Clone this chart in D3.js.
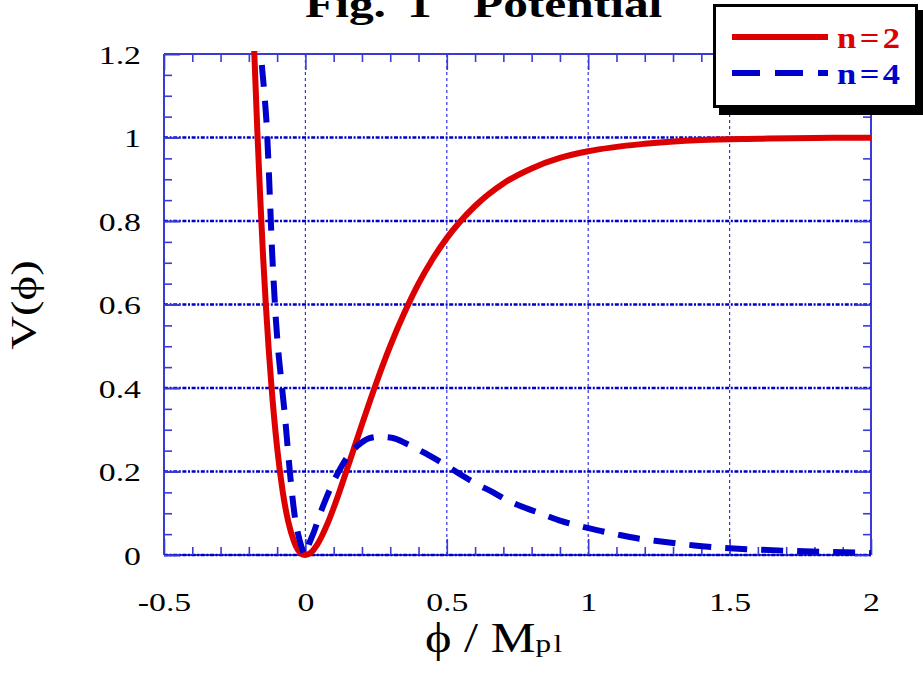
<!DOCTYPE html>
<html><head><meta charset="utf-8">
<script src="https://cdn.jsdelivr.net/npm/d3@7"></script>
<style>body{margin:0;background:#fff}svg{display:block}</style>
</head><body>
<svg id="chart" width="923" height="675"></svg>
<script>
// ---- data ----
const titleParts = ["Fig.", "1", "Potential"];
const xTickValues = [-0.5, 0, 0.5, 1, 1.5, 2];
const xTickLabels = ["-0.5", "0", "0.5", "1", "1.5", "2"];
const yTickValues = [0, 0.2, 0.4, 0.6, 0.8, 1, 1.2];
const yTickLabels = ["0", "0.2", "0.4", "0.6", "0.8", "1", "1.2"];
const seriesNames = ["n=2", "n=4"];
const phiN2 = [-0.19,-0.18,-0.17,-0.16,-0.15,-0.14,-0.13,-0.12,-0.10,-0.08,-0.06,-0.04,-0.02,0,0.02,0.04,0.06,0.08,0.10,0.12,0.15,0.20,0.25,0.30,0.35,0.40,0.45,0.50,0.60,0.70,0.80,0.90,1.0,1.2,1.4,1.6,1.8,2.0];
const vN2   = [1.39,1.19,1.015,0.86,0.72,0.60,0.495,0.404,0.257,0.151,0.078,0.032,0.007,0,0.006,0.023,0.048,0.078,0.113,0.151,0.211,0.313,0.411,0.501,0.58,0.65,0.709,0.759,0.836,0.89,0.926,0.951,0.967,0.985,0.994,0.997,0.999,0.9995];
const phiN4 = [-0.160,-0.157,-0.147,-0.137,-0.130,-0.124,-0.118,-0.111,-0.104,-0.096,-0.084,-0.072,-0.063,-0.055,-0.046,-0.037,-0.025,-0.013,0,0.012,0.03,0.05,0.07,0.09,0.11,0.13,0.15,0.175,0.20,0.222,0.264,0.305,0.360,0.431,0.480,0.541,0.600,0.664,0.714,0.785,0.830,0.906,0.965,1.048,1.097,1.181,1.236,1.322,1.375,1.463,1.56,1.71,1.86,2.0];
const vN4   = [1.26,1.21,1.12,1.03,0.93,0.83,0.73,0.64,0.56,0.49,0.41,0.33,0.26,0.20,0.14,0.09,0.048,0.018,0,0.025,0.055,0.095,0.13,0.162,0.19,0.215,0.236,0.256,0.27,0.279,0.283,0.281,0.266,0.241,0.222,0.196,0.172,0.150,0.131,0.111,0.100,0.081,0.070,0.057,0.050,0.039,0.034,0.027,0.023,0.018,0.014,0.010,0.007,0.005];

// ---- setup ----
const svg = d3.select("#chart");
const L = 164, R = 871, T = 54, B = 555;
const x = d3.scaleLinear().domain([-0.5, 2]).range([L, R]);
const y = d3.scaleLinear().domain([0, 1.2]).range([B, T]);
const SX = 1.3;
const serif = "'Liberation Serif','Times New Roman',Times,serif";
const RED = "#dd0000", BLUE = "#0000cc", FRAME = "#3a3ad6";

svg.append("rect").attr("width", 923).attr("height", 675).attr("fill", "#fff");

// title
const titleX = [305, 407, 473];
titleParts.forEach((t, i) => {
  svg.append("text").attr("transform", `translate(${titleX[i]},17) scale(${SX},1)`)
    .attr("font-family", serif).attr("font-weight", "bold").attr("font-size", 38)
    .attr("fill", "#000").text(t);
});

// vertical grid
svg.append("g").selectAll("line").data([0, 0.5, 1, 1.5]).join("line")
  .attr("x1", d => x(d)).attr("x2", d => x(d)).attr("y1", T).attr("y2", B)
  .attr("stroke", "#3333dd").attr("stroke-width", 1.2).attr("stroke-dasharray", "3,3");

// frame
const frame = svg.append("g").attr("stroke", FRAME).attr("stroke-width", 2).attr("fill", "none");
frame.append("line").attr("x1", L).attr("x2", L).attr("y1", T).attr("y2", B);
frame.append("line").attr("x1", R).attr("x2", R).attr("y1", T).attr("y2", B);
frame.append("line").attr("x1", L).attr("x2", R).attr("y1", T).attr("y2", T);
frame.append("line").attr("x1", L).attr("x2", R).attr("y1", B).attr("y2", B);

// horizontal grid (dash-dot)
svg.append("g").selectAll("line").data([0, 0.2, 0.4, 0.6, 0.8, 1.0]).join("line")
  .attr("x1", L).attr("x2", R).attr("y1", d => y(d)).attr("y2", d => y(d))
  .attr("stroke", BLUE).attr("stroke-width", 2.4).attr("stroke-dasharray", "4,1.6,2,1.6");

// ticks through d3 axes
const xMinor = d3.range(-0.5, 2.0001, 0.1).filter(v => Math.abs(v * 2 - Math.round(v * 2)) > 1e-6);
const yMinor = d3.range(0, 1.2001, 0.05).filter(v => Math.abs(v * 5 - Math.round(v * 5)) > 1e-6);
function styleTicks(g) {
  g.select(".domain").remove();
  g.selectAll(".tick line").attr("stroke", FRAME).attr("stroke-width", 1.6);
}
svg.append("g").attr("transform", `translate(0,${T})`)
  .call(d3.axisTop(x).tickValues(xMinor).tickSize(-8).tickFormat("")).call(styleTicks);
svg.append("g").attr("transform", `translate(0,${T})`)
  .call(d3.axisTop(x).tickValues(xTickValues).tickSize(-16).tickFormat("")).call(styleTicks);
svg.append("g").attr("transform", `translate(0,${B})`)
  .call(d3.axisBottom(x).tickValues(xMinor).tickSize(-8).tickFormat("")).call(styleTicks);
svg.append("g").attr("transform", `translate(${L},0)`)
  .call(d3.axisLeft(y).tickValues(yMinor).tickSize(-8).tickFormat("")).call(styleTicks);
svg.append("g").attr("transform", `translate(${L},0)`)
  .call(d3.axisLeft(y).tickValues(yTickValues).tickSize(-16).tickFormat("")).call(styleTicks);
svg.append("g").attr("transform", `translate(${R},0)`)
  .call(d3.axisRight(y).tickValues(yMinor).tickSize(-8).tickFormat("")).call(styleTicks);
svg.append("g").attr("transform", `translate(${R},0)`)
  .call(d3.axisRight(y).tickValues(yTickValues).tickSize(-16).tickFormat("")).call(styleTicks);

// labelled axes
const xAxisG = svg.append("g").attr("transform", `translate(0,${B})`)
  .call(d3.axisBottom(x).tickValues(xTickValues).tickSize(-16).tickFormat((d, i) => xTickLabels[i]))
  .call(styleTicks);
xAxisG.selectAll(".tick text")
  .attr("y", null).attr("dy", null)
  .attr("transform", `translate(0,56) scale(${SX},1)`)
  .attr("font-family", serif).attr("font-size", 26).attr("fill", "#000").attr("text-anchor", "middle");
const yAxisG = svg.append("g").attr("transform", `translate(${L},0)`)
  .call(d3.axisLeft(y).tickValues(yTickValues).tickSize(-16).tickFormat((d, i) => yTickLabels[i]))
  .call(styleTicks);
yAxisG.selectAll(".tick text")
  .attr("x", null).attr("dy", null)
  .attr("transform", `translate(-23,9) scale(${SX},1)`)
  .attr("font-family", serif).attr("font-size", 26).attr("fill", "#000").attr("text-anchor", "end");

// axis titles
svg.append("text").attr("transform", `translate(36,305) rotate(-90) scale(${SX},1)`)
  .attr("font-family", serif).attr("font-size", 36).attr("text-anchor", "middle").attr("fill", "#000")
  .text("V(\u03D5)");
const xt = svg.append("text").attr("transform", `translate(425,652) scale(1.2,1)`)
  .attr("font-family", serif).attr("font-size", 42).attr("fill", "#000");
xt.append("tspan").text("\u03D5 / M");
xt.append("tspan").attr("font-size", 26).attr("letter-spacing", 2).text("pl");

// curves
svg.append("clipPath").attr("id", "clip").append("rect")
  .attr("x", L - 4).attr("y", T - 3).attr("width", R - L + 8).attr("height", B - T + 8);
const line = d3.line().x(d => x(d[0])).y(d => y(d[1])).curve(d3.curveMonotoneX);
const dN2 = phiN2.map((p, i) => [p, vN2[i]]);
const dN4 = phiN4.map((p, i) => [p, vN4[i]]);
const curves = svg.append("g").attr("clip-path", "url(#clip)").attr("fill", "none");
curves.append("path").attr("d", line(dN2)).attr("stroke", RED).attr("stroke-width", 6).attr("stroke-linejoin", "round");
curves.append("path").attr("d", line(dN4)).attr("stroke", BLUE).attr("stroke-width", 6)
  .attr("stroke-dasharray", "22,14");

// legend
const lg = svg.append("g");
lg.append("rect").attr("x", 719).attr("y", 10).attr("width", 206).attr("height", 105).attr("fill", "#000");
lg.append("rect").attr("x", 714.5).attr("y", 5.5).attr("width", 202).attr("height", 101)
  .attr("fill", "#fff").attr("stroke", "#000").attr("stroke-width", 3);
const legY = [37, 73];
const legCol = [RED, BLUE];
seriesNames.forEach((name, i) => {
  const ln = lg.append("line").attr("x1", 732).attr("x2", 828).attr("y1", legY[i]).attr("y2", legY[i])
    .attr("stroke", legCol[i]).attr("stroke-width", 6);
  if (i === 1) ln.attr("stroke-dasharray", "28,15");
  lg.append("text").attr("transform", `translate(837,${legY[i] + 11}) scale(1.15,1)`)
    .attr("font-family", serif).attr("font-weight", "bold").attr("font-size", 30)
    .attr("letter-spacing", 3).attr("text-anchor", "start").attr("fill", legCol[i]).text(name);
});
</script>
</body></html>
